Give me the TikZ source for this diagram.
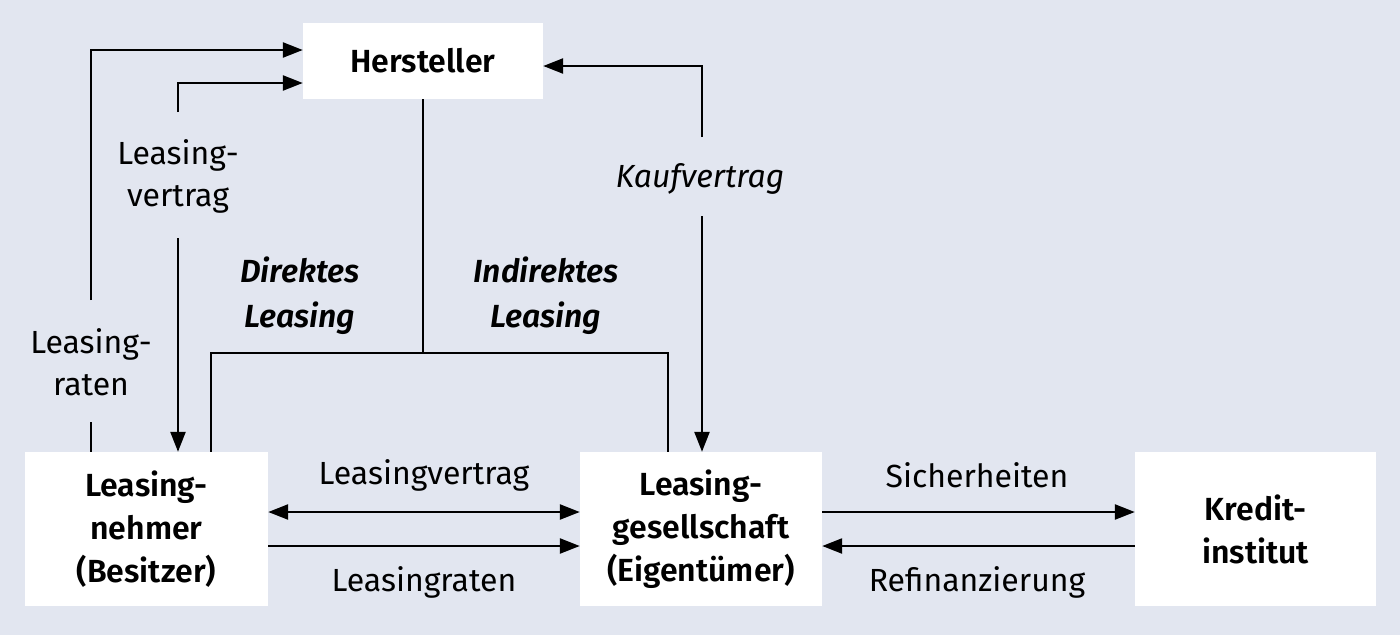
\documentclass[tikz,border=0pt]{standalone}
\usepackage{fontspec}
\setmainfont{Fira Sans}[BoldFont={Fira Sans SemiBold},BoldItalicFont={Fira Sans SemiBold Italic}]
\usetikzlibrary{arrows.meta}
\definecolor{bg}{RGB}{226,230,240}
\begin{document}
\begin{tikzpicture}[x=1pt,y=-1pt,
  box/.style={fill=white,draw=none,inner sep=0pt,align=center,font=\bfseries\fontsize{32}{43}\selectfont},
  lbl/.style={inner sep=0pt,align=center,font=\fontsize{32}{42}\selectfont},
  ilbl/.style={lbl,font=\itshape\fontsize{32}{42}\selectfont},
  bilbl/.style={lbl,font=\bfseries\itshape\fontsize{32}{45}\selectfont},
  con/.style={line width=2.4pt,black},
  arr/.style={con,-{Triangle[length=20pt,width=15pt]}},
  darr/.style={con,{Triangle[length=20pt,width=15pt]}-{Triangle[length=20pt,width=15pt]}}]
\fill[bg] (0,0) rectangle (1400,635);
\useasboundingbox (0,0) rectangle (1400,635);
% boxes
\node[box,minimum width=240pt,minimum height=76pt] (H) at (423,61) {Hersteller};
\node[box,minimum width=243pt,minimum height=154pt] (LN) at (146.5,529) {Leasing-\\nehmer\\(Besitzer)};
\node[box,minimum width=242pt,minimum height=154pt] (LG) at (701,529) {Leasing-\\gesellschaft\\(Eigentümer)};
\node[box,minimum width=241pt,minimum height=154pt] (KI) at (1255.5,529) {Kredit-\\institut};
% labels
\node[lbl] (lr) at (91,362) {Leasing-\\raten};
\node[lbl] (lv) at (178,176) {Leasing-\\vertrag};
\node[bilbl] (dl) at (300,296) {Direktes\\Leasing};
\node[bilbl] (il) at (546,296) {Indirektes\\Leasing};
\node[ilbl] (kv) at (700,179) {Kaufvertrag};
\node[lbl] (lv2) at (424,475) {Leasingvertrag};
\node[lbl] (lr2) at (424,582) {Leasingraten};
\node[lbl] (si) at (977,475) {Sicherheiten};
\node[lbl] (rf) at (977,582) {Refinanzierung};
% coordinates
\coordinate (a1) at (91,300);
\coordinate (a2) at (91,422);
\coordinate (b1) at (178,112);
\coordinate (b2) at (178,238);
\coordinate (c1) at (702,137);
\coordinate (c2) at (702,216);
\coordinate (j) at (423,353);
% Leasingraten (left)
\draw[con] (LN.north -| a2) -- (a2);
\draw[arr] (a1) |- ([yshift=11pt]H.west);
% Leasingvertrag (left)
\draw[arr] (b1) |- ([yshift=-22pt]H.west);
\draw[arr] (b2) -- (LN.north -| b2);
% direkt / indirekt
\draw[con] (H.south) -- (j);
\draw[con] (LN.north -| 211,0) |- (j) -| (LG.north -| 668,0);
% Kaufvertrag
\draw[arr] (c1) |- ([yshift=-5pt]H.east);
\draw[arr] (c2) -- (LG.north -| c2);
% horizontal
\draw[darr] (LN.east |- 0,512) -- (LG.west |- 0,512);
\draw[arr] (LN.east |- 0,546) -- (LG.west |- 0,546);
\draw[arr] (LG.east |- 0,512) -- (KI.west |- 0,512);
\draw[arr] (KI.west |- 0,546) -- (LG.east |- 0,546);
\end{tikzpicture}
\end{document}
